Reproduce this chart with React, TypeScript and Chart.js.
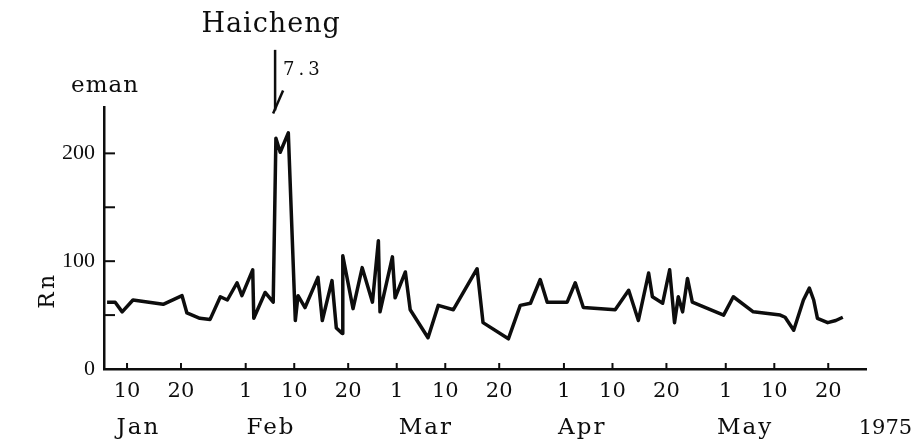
import { useEffect, useRef } from "react";
import { Chart, registerables } from "chart.js";

Chart.register(...registerables);

// Day of year 1975 (Jan 1 = 1) and radon concentration (eman)
const DAYS = [
  6.3, 7.8, 9.1, 11.1, 16.7, 20.2, 21.1, 23.5, 25.4, 27.3, 28.6, 30.4, 31.3, 33.3, 33.5,
  35.6, 37.1, 37.6, 38.4, 39.9, 41.2, 41.7, 43.0, 45.4, 46.2, 48.0, 48.8, 49.9, 50.0,
  51.9, 53.6, 55.5, 56.6, 56.9, 59.2, 59.7, 61.6, 62.5, 65.8, 67.7, 70.5, 74.9, 76.0,
  80.7, 82.9, 84.8, 86.6, 87.9, 91.6, 93.1, 94.6, 100.5, 103.0, 104.8, 106.7, 107.4,
  109.3, 110.6, 111.5, 112.2, 113.0, 113.9, 114.8, 120.6, 122.4, 126.1, 131.1, 132.0,
  133.6, 135.4, 136.5, 137.3, 138.0, 139.9, 141.4, 142.7,
];
const RN = [
  62, 62, 53, 64, 60, 68, 52, 47, 46, 67, 64, 80, 68, 92, 47,
  71, 62, 214, 201, 219, 45, 68, 57, 85, 45, 82, 38, 33, 105,
  56, 94, 62, 119, 53, 104, 66, 90, 55, 29, 59, 55, 93, 43,
  28, 59, 61, 83, 62, 62, 80, 57, 55, 73, 45, 89, 67,
  61, 92, 43, 67, 53, 84, 62, 50, 67, 53, 50, 48,
  36, 64, 75, 64, 47, 43, 45, 48,
];

const X_TICK_DAYS = [10, 20, 32, 41, 51, 60, 69, 79, 91, 100, 110, 121, 130, 140];
const X_TICK_LABELS = ["10", "20", "1", "10", "20", "1", "10", "20", "1", "10", "20", "1", "10", "20"];
const Y_TICKS = [0, 50, 100, 150, 200];
const Y_LABELED = [0, 100, 200];
const MONTHS = ["Jan", "Feb", "Mar", "Apr", "May"];
const MONTH_CENTER_DAYS = [12.1, 36.7, 65.4, 94.4, 124.6];
const YEAR_LABEL = "1975";
const YEAR_DAY = 150.6;
const QUAKE_NAME = "Haicheng";
const QUAKE_MAG = "7.3";
const QUAKE_DAY = 37.45;
const ARROW_FROM = 296;
const ARROW_TO = 238;
const UNIT = "eman";
const Y_TITLE = "Rn";
const Y_TITLE_AT = 73;
const X_MIN = 5.73;
const X_MAX = 147;
const Y_MIN = 0;
const Y_MAX = 243;

const INK = "#0d0d0d";
const SERIF = '"DejaVu Serif", serif';

const annotate = {
  id: "annotate",
  afterDraw(chart: any) {
    const { ctx, chartArea } = chart;
    const xs = chart.scales.x;
    const ys = chart.scales.y;
    ctx.save();
    ctx.strokeStyle = INK;
    ctx.fillStyle = INK;
    ctx.lineWidth = 2;
    ctx.lineCap = "butt";
    // inward tick marks on y axis
    for (const v of Y_TICKS) {
      const py = ys.getPixelForValue(v);
      ctx.beginPath();
      ctx.moveTo(chartArea.left, py);
      ctx.lineTo(chartArea.left + 11, py);
      ctx.stroke();
    }
    // inward tick marks on x axis
    for (const d of X_TICK_DAYS) {
      const px = xs.getPixelForValue(d);
      ctx.beginPath();
      ctx.moveTo(px, chartArea.bottom);
      ctx.lineTo(px, chartArea.bottom - 6);
      ctx.stroke();
    }
    // month labels
    ctx.textBaseline = "alphabetic";
    ctx.textAlign = "center";
    (ctx as any).letterSpacing = "2px";
    ctx.font = `23px ${SERIF}`;
    MONTHS.forEach((m, i) => {
      ctx.fillText(m, xs.getPixelForValue(MONTH_CENTER_DAYS[i]), chartArea.bottom + 65);
    });
    (ctx as any).letterSpacing = "0px";
    ctx.font = `21px ${SERIF}`;
    ctx.fillText(YEAR_LABEL, xs.getPixelForValue(YEAR_DAY), chartArea.bottom + 65);

    // earthquake arrow
    const ax = xs.getPixelForValue(QUAKE_DAY);
    const ay0 = ys.getPixelForValue(ARROW_FROM);
    const ay1 = ys.getPixelForValue(ARROW_TO);
    ctx.lineWidth = 2.5;
    ctx.beginPath();
    ctx.moveTo(ax, ay0);
    ctx.lineTo(ax, ay1 - 2);
    ctx.stroke();
    ctx.beginPath();
    ctx.moveTo(ax + 8, ay1 - 22);
    ctx.lineTo(ax - 2, ay1 + 1);
    ctx.stroke();

    ctx.font = `27px ${SERIF}`;
    (ctx as any).letterSpacing = "1px";
    ctx.textAlign = "center";
    ctx.fillText(QUAKE_NAME, ax - 4, ay0 - 18);
    ctx.font = `18px ${SERIF}`;
    (ctx as any).letterSpacing = "4px";
    ctx.textAlign = "left";
    ctx.fillText(QUAKE_MAG, ax + 8, ay0 + 25);

    // unit label
    (ctx as any).letterSpacing = "1px";
    ctx.font = `23px ${SERIF}`;
    ctx.textAlign = "center";
    ctx.fillText(UNIT, chartArea.left + 1, chartArea.top - 15);

    // y title
    ctx.save();
    ctx.translate(48, ys.getPixelForValue(Y_TITLE_AT));
    ctx.rotate(-Math.PI / 2);
    ctx.font = `22px ${SERIF}`;
    (ctx as any).letterSpacing = "3px";
    ctx.textAlign = "center";
    ctx.textBaseline = "middle";
    ctx.fillText(Y_TITLE, 0, 0);
    ctx.restore();

    ctx.restore();
  },
};

export default function App() {
  const ref = useRef<HTMLCanvasElement | null>(null);
  useEffect(() => {
    if (!ref.current) return;
    const chart = new Chart(ref.current, {
      type: "line",
      data: {
        datasets: [
          {
            data: DAYS.map((d, i) => ({ x: d, y: RN[i] })),
            borderColor: INK,
            borderWidth: 3.5,
            pointRadius: 0,
            tension: 0,
            fill: false,
            borderJoinStyle: "round",
          },
        ],
      },
      options: {
        animation: false,
        responsive: false,
        layout: { padding: { top: 107, right: 50, left: 0, bottom: 0 } },
        plugins: { legend: { display: false }, tooltip: { enabled: false } },
        scales: {
          x: {
            type: "linear",
            min: X_MIN,
            max: X_MAX,
            afterBuildTicks: (s: any) => {
              s.ticks = X_TICK_DAYS.map((v) => ({ value: v }));
            },
            afterFit: (s: any) => {
              s.height = 77;
            },
            grid: { display: false, drawTicks: false },
            border: { display: true, color: INK, width: 2.5 },
            ticks: {
              autoSkip: false,
              maxRotation: 0,
              padding: 10,
              color: INK,
              font: { family: "DejaVu Serif", size: 21 },
              callback: (_v: any, i: number) => X_TICK_LABELS[i],
            },
          },
          y: {
            type: "linear",
            min: Y_MIN,
            max: Y_MAX,
            afterBuildTicks: (s: any) => {
              s.ticks = Y_TICKS.map((v) => ({ value: v }));
            },
            afterFit: (s: any) => {
              s.width = 104;
            },
            grid: { display: false, drawTicks: false },
            border: { display: true, color: INK, width: 2.5 },
            ticks: {
              padding: 9,
              color: INK,
              font: { family: "Liberation Serif", size: 22 },
              callback: (v: any) => (Y_LABELED.includes(Number(v)) ? String(v) : ""),
            },
          },
        },
      },
      plugins: [annotate],
    } as any);
    return () => chart.destroy();
  }, []);
  return (
    <div style={{ position: "fixed", left: 0, top: 0, width: 916, height: 446, background: "#fff" }}>
      <canvas ref={ref} width={916} height={446} />
    </div>
  );
}
